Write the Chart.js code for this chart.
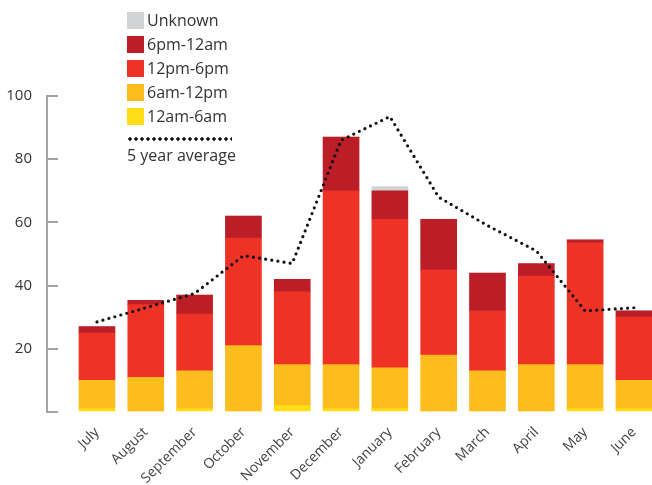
<!DOCTYPE html>
<html>
<head>
<meta charset="utf-8">
<script src="https://cdn.jsdelivr.net/npm/chart.js@4/dist/chart.umd.min.js"></script>
<style>
  html, body { margin: 0; padding: 0; background: #fff; overflow: hidden; }
  #wrap { position: relative; width: 652px; height: 485px; }
  #chart { position: absolute; left: 0; top: 0; }
  #legend { position: absolute; left: 127px; top: 8px; font-family: "Open Sans", sans-serif; font-size: 16px; color: #333; }
  .item { display: flex; align-items: center; height: 24px; }
  .sw { width: 17px; height: 17px; margin-right: 3px; }
  .dots { width: 105px; height: 4px; margin-top: 9px;
          background-image: radial-gradient(circle, #111 1.5px, transparent 1.8px);
          background-size: 6px 4px; background-position: 0 0; }
  .avg { margin-top: 3px; }
</style>
</head>
<body>
<div id="wrap">
  <canvas id="chart" width="652" height="485"></canvas>
  <div id="legend"></div>
</div>
<script>
// Months of the year, July to June
const months = ['July', 'August', 'September', 'October', 'November', 'December',
                'January', 'February', 'March', 'April', 'May', 'June'];

// Counts by time of day (stacked bottom to top)
const night     = [1, 0, 1, 0, 2, 1, 1, 0, 0, 0, 1, 1];              // 12am-6am
const morning   = [9, 11, 12, 21, 13, 14, 13, 18, 13, 15, 14, 9];    // 6am-12pm
const afternoon = [15, 23, 18, 34, 23, 55, 47, 27, 19, 28, 38.5, 20]; // 12pm-6pm
const evening   = [2, 1.3, 6, 7, 4, 17, 9, 16, 12, 4, 1, 2];         // 6pm-12am
const unknown   = [0, 0, 0, 0, 0, 0, 1.3, 0, 0, 0, 0, 0];            // Unknown

// Five year average
const fiveYearAvg = [28.5, 33, 37.5, 49.5, 47, 86, 93.5, 68, 59, 51, 32, 33];

// y axis tick values
const yTicks = [0, 20, 40, 60, 80, 100];

const seriesDefs = [
  { label: '12am-6am', data: night,     color: '#ffde17' },
  { label: '6am-12pm', data: morning,   color: '#fdbd1e' },
  { label: '12pm-6pm', data: afternoon, color: '#ef3226' },
  { label: '6pm-12am', data: evening,   color: '#bb1e27' },
  { label: 'Unknown',  data: unknown,   color: '#d1d3d4' }
];

const toXY = arr => arr.map((v, i) => ({ x: i, y: v }));

const datasets = seriesDefs.map(s => ({
  type: 'bar',
  label: s.label,
  data: toXY(s.data),
  backgroundColor: s.color,
  borderWidth: 0,
  barThickness: 36,
  stack: 'times',
  order: 1
}));

datasets.push({
  type: 'line',
  label: '5 year average',
  data: toXY(fiveYearAvg),
  borderColor: '#111',
  borderWidth: 3.2,
  borderDash: [0, 6.2],
  borderCapStyle: 'round',
  pointRadius: 0,
  tension: 0,
  fill: false,
  stack: 'avg',
  order: 0
});

// Legend: series listed top layer first, then the dotted average
const legend = document.getElementById('legend');
seriesDefs.slice().reverse().forEach(s => {
  const row = document.createElement('div');
  row.className = 'item';
  const sw = document.createElement('div');
  sw.className = 'sw';
  sw.style.background = s.color;
  const t = document.createElement('span');
  t.textContent = s.label;
  row.appendChild(sw);
  row.appendChild(t);
  legend.appendChild(row);
});
const dots = document.createElement('div');
dots.className = 'dots';
legend.appendChild(dots);
const avgLabel = document.createElement('div');
avgLabel.className = 'avg';
avgLabel.textContent = '5 year average';
legend.appendChild(avgLabel);

new Chart(document.getElementById('chart'), {
  data: { datasets },
  options: {
    responsive: false,
    animation: false,
    layout: { padding: { top: 96, right: 0, left: 0, bottom: 0 } },
    plugins: { legend: { display: false }, tooltip: { enabled: false } },
    scales: {
      x: {
        type: 'linear',
        stacked: true,
        offset: false,
        min: -1.024,
        max: 11.37,
        border: { display: false },
        grid: { display: false },
        afterFit: s => { s.height = 73; s.paddingLeft = 0; s.paddingRight = 0; },
        ticks: {
          stepSize: 1,
          includeBounds: false,
          autoSkip: false,
          maxRotation: 45,
          minRotation: 45,
          padding: 4,
          color: '#444',
          font: { family: 'Open Sans', size: 14 },
          callback: v => (Number.isInteger(v) && v >= 0 && v < months.length) ? months[v] : ''
        }
      },
      y: {
        stacked: true,
        min: 0,
        max: 100,
        afterFit: s => { s.width = 47; s.paddingTop = 0; s.paddingBottom = 0; },
        afterBuildTicks: s => { s.ticks = yTicks.map(v => ({ value: v })); },
        border: { display: true, color: '#a3a3a3', width: 2 },
        grid: { display: true, drawOnChartArea: false, drawTicks: true, tickLength: -11, color: '#a3a3a3', lineWidth: 2 },
        ticks: {
          padding: 26,
          color: '#333',
          font: { family: 'Open Sans', size: 15 },
          callback: v => v === 0 ? '' : v
        }
      }
    }
  }
});
</script>
</body>
</html>
